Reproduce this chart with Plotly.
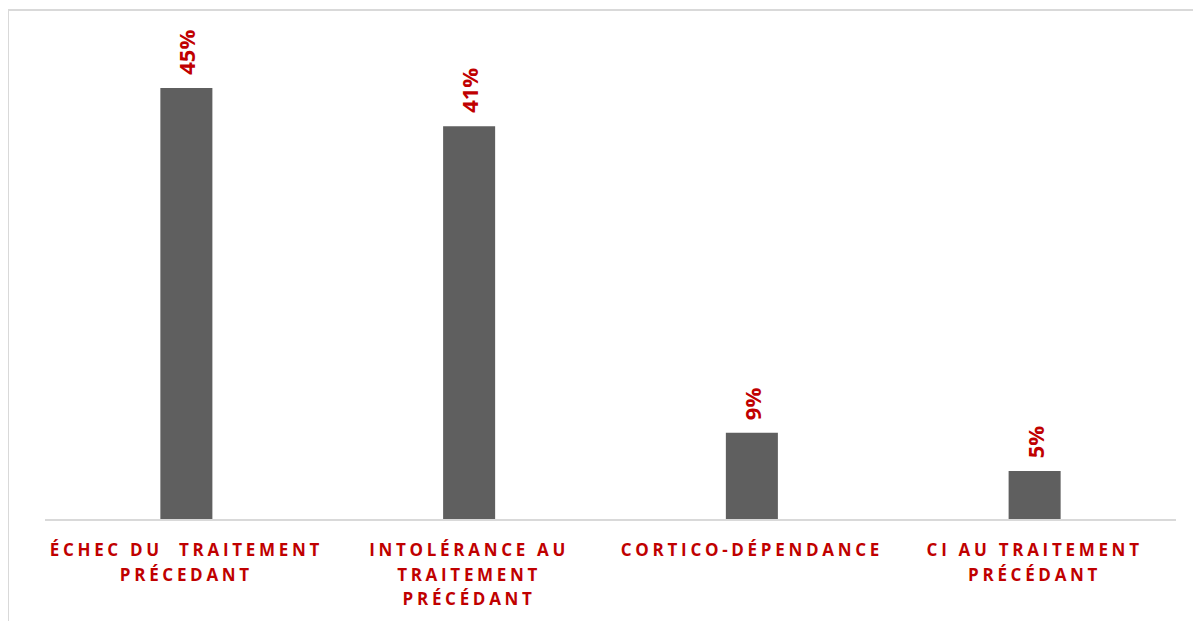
import plotly.graph_objects as go

label_lines = [["ÉCHEC DU\u00a0\u00a0TRAITEMENT", "PRÉCEDANT"],
               ["INTOLÉRANCE AU", "TRAITEMENT", "PRÉCÉDANT"],
               ["CORTICO-DÉPENDANCE"],
               ["CI AU TRAITEMENT", "PRÉCÉDANT"]]
values = [45, 41, 9, 5]
value_labels = ["45%", "41%", "9%", "5%"]

RED = "#C00000"
BAR = "#5F5F5F"

SPAN = '<span style="font-size:17px;letter-spacing:3.7px">{}</span>'
categories = ["<br>".join(SPAN.format(l) for l in lines) for lines in label_lines]

fig = go.Figure()
fig.add_trace(go.Bar(
    x=categories, y=values,
    marker=dict(color=BAR, line=dict(width=0)),
    width=0.184,
    hoverinfo="skip",
))

for c, v, t in zip(categories, values, value_labels):
    fig.add_annotation(x=c, y=v, text=t, textangle=-90, showarrow=False,
                       xanchor="center", yanchor="bottom", yshift=11,
                       font=dict(family="Open Sans", size=22, color=RED, weight="bold"))

# plot area in figure px: x 37..1168, y 32..511
fig.add_shape(type="rect", xref="paper", yref="paper",
              x0=-37/1131, x1=1.2, y0=-0.5, y1=(511-2)/479,
              line=dict(color="#D9D9D9", width=2), fillcolor="rgba(0,0,0,0)", layer="below")

fig.update_layout(
    width=1201, height=621,
    margin=dict(l=37, r=33, t=32, b=110),
    paper_bgcolor="white", plot_bgcolor="white",
    showlegend=False,
    xaxis=dict(showline=True, linecolor="#D9D9D9", linewidth=2, showgrid=False,
               ticks="", ticklabelstandoff=12,
               tickfont=dict(family="Open Sans", size=19, color=RED, weight="bold")),
    yaxis=dict(range=[0, 50], visible=False, showgrid=False, zeroline=False),
)

fig.write_html("out.html")
